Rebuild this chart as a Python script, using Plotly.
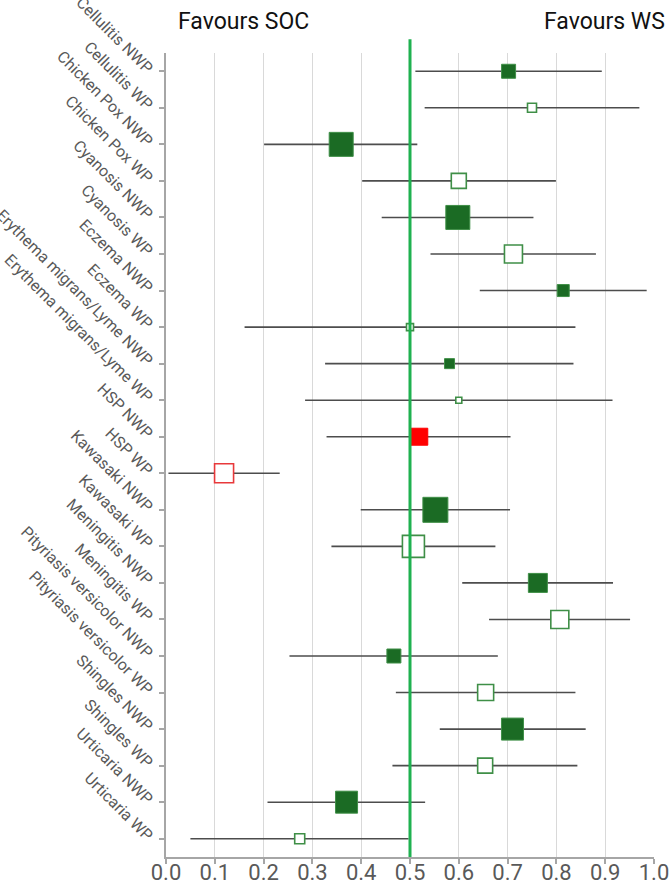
import plotly.graph_objects as go

labels = ["Cellulitis NWP", "Cellulitis WP", "Chicken Pox NWP", "Chicken Pox WP",
          "Cyanosis NWP", "Cyanosis WP", "Eczema NWP", "Eczema WP",
          "Erythema migrans/Lyme NWP", "Erythema migrans/Lyme WP", "HSP NWP", "HSP WP",
          "Kawasaki NWP", "Kawasaki WP", "Meningitis NWP", "Meningitis WP",
          "Pityriasis versicolor NWP", "Pityriasis versicolor WP", "Shingles NWP", "Shingles WP",
          "Urticaria NWP", "Urticaria WP"]
estimate = [0.702, 0.750, 0.359, 0.600, 0.598, 0.712, 0.814, 0.500, 0.581, 0.600, 0.519, 0.119,
            0.552, 0.507, 0.762, 0.807, 0.467, 0.655, 0.710, 0.654, 0.370, 0.274]
lower = [0.511, 0.530, 0.201, 0.402, 0.442, 0.542, 0.643, 0.161, 0.326, 0.285, 0.329, 0.005,
         0.399, 0.339, 0.607, 0.662, 0.253, 0.471, 0.561, 0.464, 0.208, 0.050]
upper = [0.893, 0.970, 0.515, 0.799, 0.753, 0.881, 0.985, 0.839, 0.835, 0.915, 0.706, 0.233,
         0.705, 0.675, 0.916, 0.951, 0.680, 0.839, 0.860, 0.843, 0.531, 0.497]
weight = [14, 9, 24, 15, 24, 18, 12, 7, 10, 6, 17, 19, 25, 22, 19, 18, 14, 16, 22, 15, 22, 10]
filled = [True, False, True, False, True, False, True, False, True, False, True, False,
          True, False, True, False, True, False, True, False, True, False]
highlight = [False] * 10 + [True, True] + [False] * 10

x_ticks = [i / 10 for i in range(11)]
x_ticktext = [f"{v:.1f}" for v in x_ticks]

GREEN_FILL = "#1b6b24"
GREEN_EDGE = "#3f8f47"
RED_FILL = "#ff0000"
RED_EDGE = "#e8393b"

fill_colors, line_colors, line_widths = [], [], []
for f, h in zip(filled, highlight):
    if f:
        fill_colors.append(RED_FILL if h else GREEN_FILL)
        line_colors.append(RED_FILL if h else GREEN_EDGE)
        line_widths.append(1)
    else:
        fill_colors.append("white")
        line_colors.append(RED_EDGE if h else GREEN_EDGE)
        line_widths.append(1.6)

fig = go.Figure()
fig.add_trace(go.Scatter(
    x=estimate, y=labels, mode="markers",
    marker=dict(symbol="square", size=weight, color=fill_colors, opacity=1,
                line=dict(color=line_colors, width=line_widths)),
    error_x=dict(type="data", symmetric=False,
                 array=[u - e for u, e in zip(upper, estimate)],
                 arrayminus=[e - l for e, l in zip(estimate, lower)],
                 width=0, thickness=1.6, color="#4d4d4d"),
    showlegend=False, hoverinfo="skip"))

fig.add_shape(type="line", xref="x", yref="paper", x0=0.5, x1=0.5, y0=0, y1=1.017,
              line=dict(color="#1fb150", width=3), layer="above")

fig.add_annotation(text="Favours SOC", xref="paper", yref="paper", x=0.158, y=1.039,
                   xanchor="center", yanchor="middle", showarrow=False,
                   font=dict(family="Roboto", size=23, color="#111111"))
fig.add_annotation(text="Favours WS", xref="paper", yref="paper", x=1.027, y=1.039,
                   xanchor="right", yanchor="middle", showarrow=False,
                   font=dict(family="Roboto", size=23, color="#111111"))

fig.update_layout(
    width=669, height=886,
    margin=dict(l=166, r=15, t=53, b=29),
    paper_bgcolor="white", plot_bgcolor="white",
    font=dict(family="Roboto", color="#595959"),
    xaxis=dict(range=[0, 1], tickvals=x_ticks, ticktext=x_ticktext,
               showgrid=True, gridcolor="#d9d9d9", gridwidth=1,
               showline=True, linecolor="#a6a6a6", linewidth=2,
               ticks="outside", ticklen=5, tickcolor="#a6a6a6", tickwidth=1.5,
               tickfont=dict(size=22, color="#595959"), zeroline=False,
               ticklabeloverflow="allow", automargin=False, ticklabelstandoff=-10),
    yaxis=dict(type="category", categoryorder="array", categoryarray=labels,
               range=[21.5, -0.5], showgrid=False,
               showline=True, linecolor="#a6a6a6", linewidth=2,
               ticks="outside", ticklen=5, tickcolor="#a6a6a6", tickwidth=1.5,
               tickangle=45, tickfont=dict(size=16, color="#595959"),
               ticklabelstandoff=4,
               zeroline=False, automargin=False),
)

fig.write_html("out.html")
